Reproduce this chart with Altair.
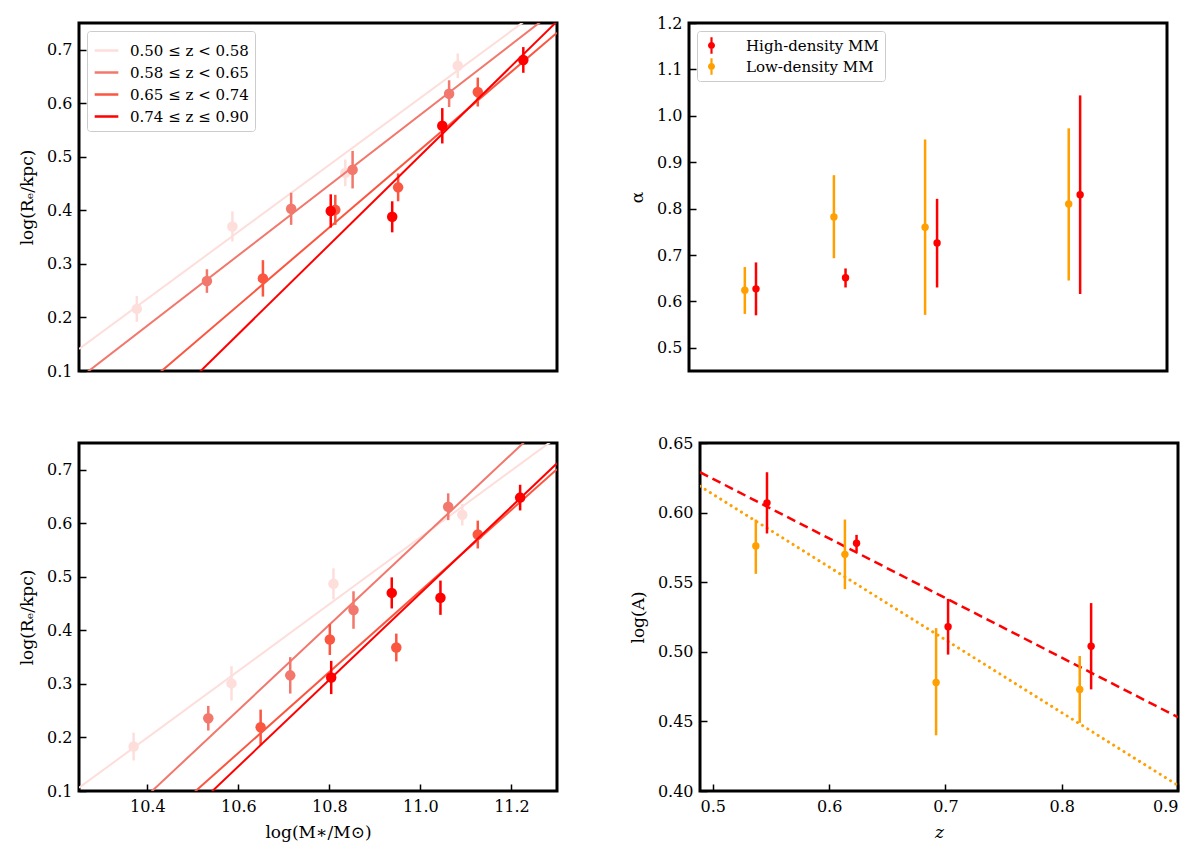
import altair as alt
import pandas as pd

# ---- bin labels / colours (left panels)
bins = ["0.50 ≤ z < 0.58", "0.58 ≤ z < 0.65", "0.65 ≤ z < 0.74", "0.74 ≤ z ≤ 0.90"]
bin_colors = ["#fddedb", "#f2776c", "#fa5640", "#ff0000"]

# ---- top-left: size-mass points (high-density)
tl_bin = [0, 0, 0, 0, 1, 1, 1, 1, 2, 2, 2, 2, 3, 3, 3, 3]
tl_mass = [10.377, 10.587, 10.835, 11.082, 10.531, 10.716, 10.851, 11.063,
           10.654, 10.813, 10.951, 11.126, 10.803, 10.938, 11.048, 11.226]
tl_re = [0.216, 0.370, 0.470, 0.670, 0.268, 0.403, 0.476, 0.618,
         0.273, 0.401, 0.443, 0.621, 0.399, 0.388, 0.558, 0.681]
tl_err = [0.024, 0.028, 0.025, 0.023, 0.022, 0.030, 0.035, 0.025,
          0.034, 0.028, 0.026, 0.027, 0.031, 0.029, 0.033, 0.024]
# fitted lines, value at left / right edge
tl_fit_left = [0.141, 0.086, -0.032, -0.123]
tl_fit_right = [0.798, 0.776, 0.732, 0.753]

# ---- bottom-left: size-mass points (low-density)
bl_bin = tl_bin
bl_mass = [10.370, 10.585, 10.809, 11.092, 10.534, 10.714, 10.853, 11.061,
           10.649, 10.801, 10.947, 11.126, 10.804, 10.937, 11.044, 11.219]
bl_re = [0.183, 0.301, 0.487, 0.616, 0.236, 0.316, 0.438, 0.631,
         0.219, 0.383, 0.368, 0.579, 0.312, 0.470, 0.461, 0.648]
bl_err = [0.026, 0.032, 0.029, 0.020, 0.023, 0.034, 0.035, 0.025,
          0.033, 0.029, 0.026, 0.026, 0.031, 0.029, 0.032, 0.024]
bl_fit_left = [0.106, -0.028, -0.094, -0.137]
bl_fit_right = [0.761, 0.809, 0.701, 0.712]

mass_edges = [10.25, 11.3]

# ---- right panels
groups = ["High-density MM", "Low-density MM"]
group_colors = ["#ff0000", "#ffa000"]
hi_z = [0.5466, 0.6236, 0.7023, 0.8253]
lo_z = [0.537, 0.6136, 0.692, 0.8155]
hi_alpha = [0.627, 0.651, 0.726, 0.830]
hi_alpha_lo = [0.570, 0.630, 0.630, 0.616]
hi_alpha_hi = [0.684, 0.671, 0.821, 1.044]
lo_alpha = [0.624, 0.782, 0.760, 0.810]
lo_alpha_lo = [0.573, 0.693, 0.571, 0.645]
lo_alpha_hi = [0.674, 0.872, 0.949, 0.973]
hi_logA = [0.607, 0.578, 0.518, 0.504]
hi_logA_lo = [0.585, 0.572, 0.498, 0.473]
hi_logA_hi = [0.629, 0.584, 0.538, 0.535]
lo_logA = [0.576, 0.570, 0.478, 0.473]
lo_logA_lo = [0.556, 0.545, 0.440, 0.449]
lo_logA_hi = [0.595, 0.595, 0.517, 0.497]
z_edges = [0.489, 0.9]
hi_fit = [0.629, 0.453]
lo_fit = [0.619, 0.404]

FONT = "DejaVu Serif"
W, H = 478, 348
TICK = 7
# errorbar-with-dot legend glyph
ERRBAR_GLYPH = ("M-0.13,-1H0.13V1H-0.13Z"
                "M0.42,0A0.42,0.42,0,1,1,-0.42,0A0.42,0.42,0,1,1,0.42,0Z")


def y_axis(title, values, fmt):
    return alt.Axis(title=title, values=values, format=fmt, offset=-TICK, tickSize=TICK,
                    titlePadding=10)


def x_axis(values, fmt, title, show=True, italic=False):
    if show:
        return alt.Axis(title=title, values=values, format=fmt, offset=-TICK, tickSize=TICK,
                        titlePadding=10, titleFontStyle="italic" if italic else "normal")
    return alt.Axis(title=None, labels=False, ticks=False, domain=False)


def size_mass(mass, re, err, bidx, fit_l, fit_r, show_x, legend):
    pts = pd.DataFrame({
        "mass": mass, "re": re,
        "lo": [r - e for r, e in zip(re, err)], "hi": [r + e for r, e in zip(re, err)],
        "bin": [bins[i] for i in bidx],
    })
    lines = pd.DataFrame({
        "mass": mass_edges * len(bins),
        "re": [v for l, r in zip(fit_l, fit_r) for v in (l, r)],
        "bin": [b for b in bins for _ in range(2)],
    })
    xs = alt.Scale(domain=[10.25, 11.3], nice=False, zero=False)
    ys = alt.Scale(domain=[0.1, 0.75], nice=False, zero=False)
    cs = alt.Scale(domain=bins, range=bin_colors)
    col = alt.Color("bin:N", scale=cs,
                    legend=alt.Legend(title=None, orient="top-left", symbolType="stroke",
                                      symbolStrokeWidth=2.5, symbolSize=560, labelFont=FONT,
                                      labelFontSize=15, fillColor="white", strokeColor="#cccccc",
                                      padding=6, cornerRadius=3, rowPadding=0, offset=8,
                                      labelOffset=10)
                    if legend else None)
    xenc = alt.X("mass:Q", scale=xs, axis=x_axis([10.4, 10.6, 10.8, 11.0, 11.2], ".1f",
                                                 "log(M∗/M⊙)", show_x))
    yenc = alt.Y("re:Q", scale=ys, axis=y_axis("log(Rₑ/kpc)", [0.1, 0.2, 0.3, 0.4, 0.5, 0.6, 0.7], ".1f"))
    layers = []
    for b in bins:
        sub_l = lines[lines["bin"] == b]
        sub_p = pts[pts["bin"] == b]
        layers.append(alt.Chart(sub_l).mark_line(strokeWidth=2, clip=True).encode(
            x=xenc, y=yenc, color=col))
        layers.append(alt.Chart(sub_p).mark_rule(strokeWidth=2.5).encode(
            x="mass:Q", y="lo:Q", y2="hi:Q", color=alt.Color("bin:N", scale=cs, legend=None)))
        layers.append(alt.Chart(sub_p).mark_circle(size=110, opacity=1).encode(
            x="mass:Q", y="re:Q", color=alt.Color("bin:N", scale=cs, legend=None)))
    return alt.layer(*layers).properties(width=W, height=H)


top_left = size_mass(tl_mass, tl_re, tl_err, tl_bin, tl_fit_left, tl_fit_right, False, True)
bottom_left = size_mass(bl_mass, bl_re, bl_err, bl_bin, bl_fit_left, bl_fit_right, True, False)

gcol = alt.Scale(domain=groups, range=group_colors)


def right_panel(hv, hlo, hhi, lv, llo, lhi, ydom, yvals, yfmt, ytitle, show_x, legend, fits):
    df = pd.DataFrame({
        "z": hi_z + lo_z, "v": hv + lv, "lo": hlo + llo, "hi": hhi + lhi,
        "group": [groups[0]] * 4 + [groups[1]] * 4,
    })
    xs = alt.Scale(domain=[0.489, 0.9], nice=False, zero=False)
    ys = alt.Scale(domain=ydom, nice=False, zero=False)
    xenc = alt.X("z:Q", scale=xs, axis=x_axis([0.5, 0.6, 0.7, 0.8, 0.9], ".1f", "z", show_x,
                                              italic=True))
    yenc = alt.Y("v:Q", scale=ys, axis=y_axis(ytitle, yvals, yfmt))
    leg = (alt.Legend(title=None, orient="top-left", symbolType=ERRBAR_GLYPH,
                      symbolSize=280, symbolStrokeWidth=0, labelFont=FONT, labelFontSize=15,
                      fillColor="white", strokeColor="#cccccc", padding=6, cornerRadius=3,
                      rowPadding=4, offset=8, labelOffset=26)
           if legend else None)
    col = alt.Color("group:N", scale=gcol, legend=leg)
    layers = []
    if fits:
        fl = pd.DataFrame({"z": z_edges, "v": hi_fit})
        fo = pd.DataFrame({"z": z_edges, "v": lo_fit})
        layers.append(alt.Chart(fl).mark_line(color=group_colors[0], strokeWidth=2.5,
                                              strokeDash=[9, 5], clip=True).encode(x=xenc, y=yenc))
        layers.append(alt.Chart(fo).mark_line(color=group_colors[1], strokeWidth=3,
                                              strokeDash=[0.1, 6], strokeCap="round",
                                              clip=True).encode(x=xenc, y=yenc))
    for g in [groups[1], groups[0]]:
        sub = df[df["group"] == g]
        layers.append(alt.Chart(sub).mark_circle(size=55, opacity=1).encode(
            x=xenc, y=yenc, color=col))
        layers.append(alt.Chart(sub).mark_rule(strokeWidth=2.5).encode(
            x="z:Q", y="lo:Q", y2="hi:Q", color=col))
    return alt.layer(*layers).properties(width=W, height=H)


top_right = right_panel(hi_alpha, hi_alpha_lo, hi_alpha_hi, lo_alpha, lo_alpha_lo, lo_alpha_hi,
                        [0.45, 1.2], [0.5, 0.6, 0.7, 0.8, 0.9, 1.0, 1.1, 1.2], ".1f", "α",
                        False, True, False)
bottom_right = right_panel(hi_logA, hi_logA_lo, hi_logA_hi, lo_logA, lo_logA_lo, lo_logA_hi,
                           [0.40, 0.65], [0.40, 0.45, 0.50, 0.55, 0.60, 0.65], ".2f", "log(A)",
                           True, False, True)

chart = alt.vconcat(
    alt.hconcat(top_left, top_right, spacing=68).resolve_scale(color="independent"),
    alt.hconcat(bottom_left, bottom_right, spacing=68).resolve_scale(color="independent"),
    spacing=52,
).resolve_scale(
    color="independent"
).configure(
    padding={"left": 9, "top": 5, "right": 0, "bottom": 0}, background="white"
).configure_view(
    stroke="black", strokeWidth=3
).configure_axis(
    domain=False, grid=False, tickColor="black", tickWidth=1.5,
    labelFont=FONT, labelFontSize=16, labelColor="black",
    titleFont=FONT, titleFontSize=17, titleFontWeight="normal", titleColor="black",
    labelPadding=7,
)

chart.save("out.html", embed_options={"renderer": "svg", "actions": False})
